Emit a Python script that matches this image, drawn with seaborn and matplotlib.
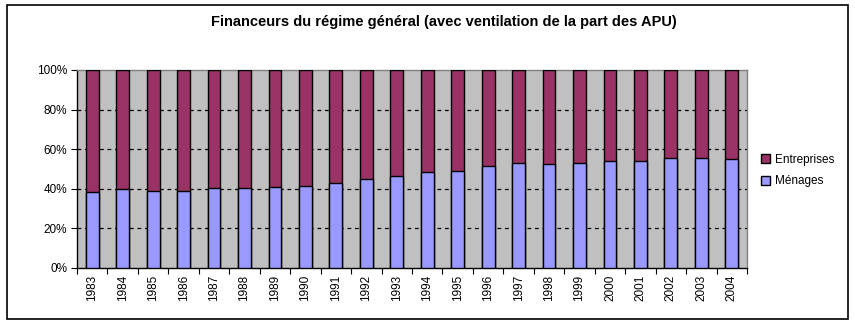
import matplotlib
matplotlib.use("Agg")
import matplotlib.pyplot as plt
import matplotlib.patches as mpatches
from matplotlib.ticker import FixedLocator, FuncFormatter
import numpy as np
import pandas as pd
import seaborn as sns

years = [str(y) for y in range(1983, 2005)]
menages = [38.2, 39.7, 38.7, 38.7, 40.2, 40.2, 40.7, 41.2, 42.8, 44.8, 46.3,
           48.3, 48.9, 51.4, 52.9, 52.4, 52.9, 53.9, 53.9, 55.4, 55.4, 54.9]
entreprises = [61.8, 60.3, 61.3, 61.3, 59.8, 59.8, 59.3, 58.8, 57.2, 55.2, 53.7,
               51.7, 51.1, 48.6, 47.1, 47.6, 47.1, 46.1, 46.1, 44.6, 44.6, 45.1]
y_ticks = [0, 20, 40, 60, 80, 100]
title = "Financeurs du régime général (avec ventilation de la part des APU)"
col_ent = "#993366"
col_men = "#9999FF"

df = pd.DataFrame({"year": years, "Ménages": menages, "Entreprises": entreprises})
df["total"] = df["Ménages"] + df["Entreprises"]

sns.set_theme(style="white")
plt.rcParams["font.family"] = ["Liberation Sans", "DejaVu Sans"]
plt.rcParams["text.color"] = "black"
plt.rcParams["xtick.color"] = "black"
plt.rcParams["ytick.color"] = "black"
plt.rcParams["xtick.labelcolor"] = "black"
plt.rcParams["ytick.labelcolor"] = "black"

fig = plt.figure(figsize=(8.55, 3.26), dpi=100)
ax = fig.add_axes([77 / 855, 1 - 268 / 326, 670 / 855, 198 / 326])
ax.set_facecolor("#C0C0C0")

sns.barplot(data=df, x="year", y="total", color=col_ent, saturation=1,
            width=0.42, edgecolor="black", linewidth=1, ax=ax, zorder=3)
sns.barplot(data=df, x="year", y="Ménages", color=col_men, saturation=1,
            width=0.42, edgecolor="black", linewidth=1, ax=ax, zorder=4)

ax.set_ylim(0, 100)
ax.set_xlim(-0.5, len(years) - 0.5)
ax.set_xlabel("")
ax.set_ylabel("")
ax.yaxis.set_major_locator(FixedLocator(y_ticks))
ax.yaxis.set_major_formatter(FuncFormatter(lambda v, p: f"{int(v)}%"))
for g in y_ticks[1:-1]:
    ax.axhline(g, color="black", linestyle=(0, (3, 3)), linewidth=0.9, zorder=1)

ax.tick_params(axis="y", which="major", direction="out", length=4, width=0.8,
               color="black", labelcolor="black", labelsize=8.5, pad=3, left=True)
ax.tick_params(axis="x", which="major", length=0, labelsize=8.5, pad=5,
               labelcolor="black", labelrotation=90)
ax.xaxis.set_minor_locator(FixedLocator(np.arange(-0.5, len(years), 1.0)))
ax.tick_params(axis="x", which="minor", direction="out", length=4, width=0.8,
               color="black", bottom=True)
for lab in ax.get_xticklabels():
    lab.set_verticalalignment("top")

for side in ["left", "bottom"]:
    ax.spines[side].set_color("black")
    ax.spines[side].set_linewidth(1)
for side in ["top", "right"]:
    ax.spines[side].set_color("#808080")
    ax.spines[side].set_linewidth(1)
    ax.spines[side].set_visible(True)

fig.text(0.519, 1 - 22 / 326, title, ha="center", va="center",
         fontsize=10.5, fontweight="bold", color="black")

handles = [mpatches.Patch(facecolor=col_ent, edgecolor="black", label="Entreprises"),
           mpatches.Patch(facecolor=col_men, edgecolor="black", label="Ménages")]
leg = fig.legend(handles=handles, loc="upper left", bbox_to_anchor=(756 / 855, 1 - 149 / 326),
                 frameon=False, fontsize=8.5, handlelength=0.8, handleheight=0.8,
                 handletextpad=0.4, labelspacing=0.8, borderaxespad=0)
for t in leg.get_texts():
    t.set_color("black")

border = mpatches.Rectangle((7 / 855, 1 - 319 / 326), 841 / 855, 314 / 326,
                            transform=fig.transFigure, fill=False,
                            edgecolor="black", linewidth=1.2)
fig.add_artist(border)

fig.savefig("out.png", dpi=100, facecolor="white")
